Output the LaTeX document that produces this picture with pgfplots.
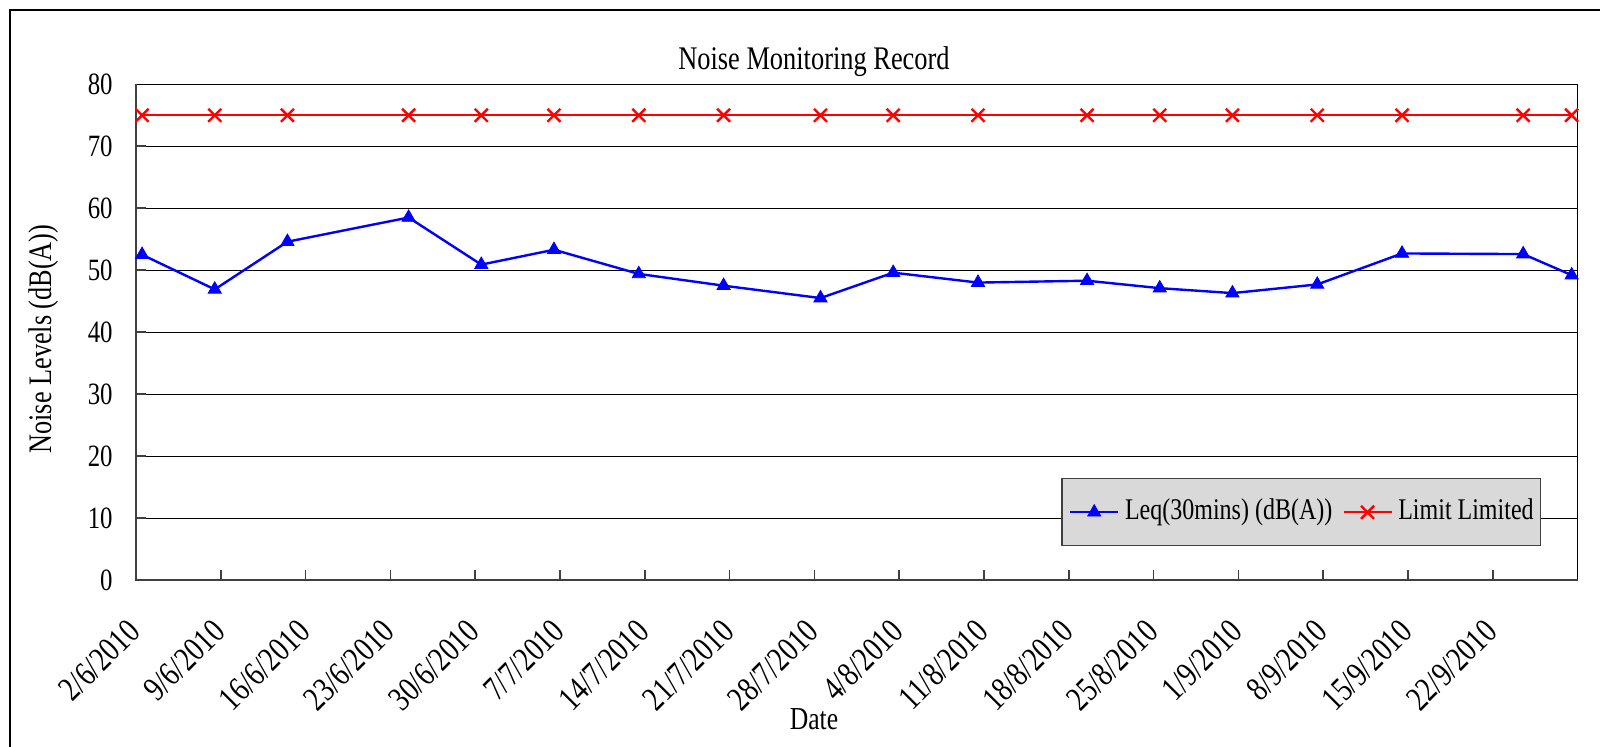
\documentclass[border=0pt]{standalone}
\usepackage{fontspec}
\usepackage{graphicx}
\setmainfont{Liberation Serif}[FakeStretch=0.8]
\newfontfamily\plainfont{Liberation Serif}
\newcommand\xl[1]{\scalebox{0.8}[1]{\plainfont #1}}
\usepackage{pgfplots}
\usepackage{pgfplotstable}
\pgfplotsset{compat=1.18}
\definecolor{axgray}{RGB}{64,64,64}
\definecolor{leggray}{RGB}{217,217,217}
\pgfplotstableread{
day leq lim
0.5 52.5 75
6.5 46.9 75
12.5 54.6 75
22.5 58.5 75
28.5 50.9 75
34.5 53.3 75
41.5 49.4 75
48.5 47.5 75
56.5 45.5 75
62.5 49.6 75
69.5 48.0 75
78.5 48.3 75
84.5 47.1 75
90.5 46.3 75
97.5 47.7 75
104.5 52.7 75
114.5 52.6 75
118.5 49.2 75
}\noisedata
\begin{document}
\begin{tikzpicture}
\begin{axis}[
  at={(0pt,0pt)}, anchor=south west,
  scale only axis, width=720.85pt, height=247.85pt,
  xmin=0, xmax=119, ymin=0, ymax=80,
  xtick={0,7,...,112},
  xticklabels={\xl{2/6/2010},\xl{9/6/2010},\xl{16/6/2010},\xl{23/6/2010},\xl{30/6/2010},\xl{7/7/2010},\xl{14/7/2010},\xl{21/7/2010},\xl{28/7/2010},\xl{4/8/2010},\xl{11/8/2010},\xl{18/8/2010},\xl{25/8/2010},\xl{1/9/2010},\xl{8/9/2010},\xl{15/9/2010},\xl{22/9/2010}},
  ytick={0,10,...,80},
  ymajorgrids, grid style={black, line width=0.5pt},
  tick align=inside, tick pos=left, major tick length=5pt,
  tick style={axgray, line width=0.8pt},
  axis line style={black, line width=0.5pt},
  /pgf/number format/assume math mode=true,
  y tick label style={font=\fontsize{15.5pt}{18pt}\selectfont, inner sep=0pt, xshift=-11.5pt, anchor=east},
  x tick label style={font=\fontsize{17.2pt}{20pt}\selectfont, inner sep=0pt, xshift=-5pt, yshift=-18.5pt, rotate=45, anchor=north east},
  clip=false,
  legend columns=2,
  legend style={at={(0.6419,0.2052)}, anchor=north west, fill=leggray, draw=axgray, line width=0.6pt,
    font=\fontsize{15pt}{18pt}\selectfont, inner xsep=3.5pt, inner ysep=9.7pt,
    nodes={inner sep=0pt, text height=10.5pt, text depth=3.5pt},
    /tikz/every odd column/.append style={column sep=2.8pt},
    /tikz/every even column/.append style={column sep=5pt}},
  legend cell align=left,
  legend image code/.code={\draw[mark repeat=2,mark phase=2,#1] plot coordinates {(0pt,0pt) (12pt,0pt) (24pt,0pt)};},
]
\addplot[blue, line width=1.2pt, mark=triangle*, mark size=3.8pt, mark options={solid, fill=blue, line width=0.4pt}] table[x=day, y=leq] {\noisedata};
\addlegendentry{Leq(30mins) (dB(A))}
\addplot[red, line width=1.2pt, mark=x, mark size=4.6pt, mark options={solid, line width=1.2pt}] table[x=day, y=lim] {\noisedata};
\addlegendentry{Limit Limited}
\draw[axgray, line width=1pt] (rel axis cs:0,1) -- (rel axis cs:0,0) -- (rel axis cs:1,0);
\end{axis}
\draw[line width=1pt, black] (-63.15pt,-83.5pt) -- (-63.15pt,285.15pt) -- (732pt,285.15pt);
\node[anchor=base, font=\fontsize{16.5pt}{20pt}\selectfont] at (339pt,255.35pt) {Noise Monitoring Record};
\node[anchor=base, font=\fontsize{16pt}{19pt}\selectfont] at (339pt,-75pt) {Date};
\node[rotate=90, anchor=base, inner sep=0pt, font=\fontsize{16.4pt}{20pt}\selectfont] at (-42.5pt,120.5pt) {\xl{Noise Levels (dB(A))}};
\pgfresetboundingbox
\useasboundingbox (-68pt,-83.5pt) rectangle (732pt,290pt);
\end{tikzpicture}
\end{document}
